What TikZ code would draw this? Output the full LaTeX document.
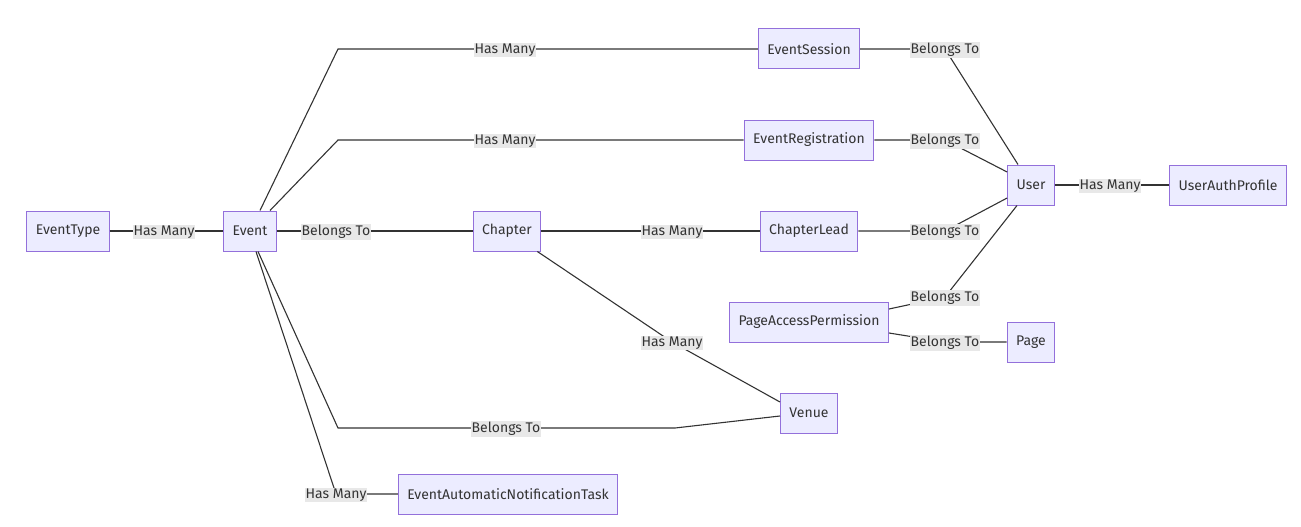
\documentclass[tikz,border=0pt]{standalone}
\usepackage{fontspec}
\setmainfont{Fira Sans}
\usetikzlibrary{positioning}
\definecolor{entFill}{HTML}{ECECFF}
\definecolor{entC}   {HTML}{9370DB}
\definecolor{relC}   {HTML}{333333}
\definecolor{lblFill}{HTML}{E8E8E8}
\tikzset{
  entity/.style={draw=entC,line width=1pt,fill=entFill,text=relC,
                 font=\fontsize{14}{16}\selectfont,
                 minimum height=40pt,inner xsep=9pt,inner ysep=0pt},
  rel/.style={draw=relC,line width=1.1pt},
  lbl/.style={fill=lblFill,text=relC,font=\fontsize{14}{16}\selectfont,
              inner xsep=0.5pt,inner ysep=1pt,yshift=-1pt},
}
\begin{document}
\begin{tikzpicture}[x=1pt,y=-1pt]
\useasboundingbox (0,0) rectangle (1301,527);

% Entities
\node[entity] (etype)   at (68,231)   {EventType};
\node[entity] (event)   at (250,231)  {Event};
\node[entity] (chapter) at (507,231)  {Chapter};
\node[entity] (session) at (809,49)   {EventSession};
\node[entity] (reg)     at (809,140)  {EventRegistration};
\node[entity] (lead)    at (809,231)  {ChapterLead};
\node[entity] (pap)     at (809,322)  {PageAccessPermission};
\node[entity] (venue)   at (809,413)  {Venue};
\node[entity] (auto)    at (508,494)  {EventAutomaticNotificationTask};
\node[entity] (user)    at (1031,185) {User};
\node[entity] (page)    at (1031,342) {Page};
\node[entity] (uap)     at (1228,185) {UserAuthProfile};

% Relations from Event
\draw[rel] (etype.east) -- (164,231) node[lbl] {Has Many} -- (event.west);
\draw[rel] ([xshift=10pt]event.north) -- (338,49) -- (505,49)
  node[lbl] {Has Many} -- (session.west);
\draw[rel] ([xshift=20pt]event.north) -- (338,140) -- (505,140)
  node[lbl] {Has Many} -- (reg.west);
\draw[rel] (event.east) -- (336,231) node[lbl] {Belongs To} -- (chapter.west);
\draw[rel] ([xshift=8pt]event.south) -- (338,428) -- (506,428)
  node[lbl] {Belongs To} -- (675,428) -- ([yshift=-3pt]venue.west);
\draw[rel] ([xshift=6pt]event.south) -- (336,494)
  node[lbl] {Has Many} -- (auto.west);

% Relations from Chapter
\draw[rel] (chapter.east) -- (672,231) node[lbl] {Has Many} -- (lead.west);
\draw[rel] ([xshift=-4pt]chapter.south east) -- (672,342)
  node[lbl] {Has Many} -- ([yshift=11pt]venue.west);

% Relations to User and Page
\draw[rel] (session.east) -- (945,49) node[lbl] {Belongs To}
  -- ([xshift=-13pt]user.north);
\draw[rel] (reg.east) -- (945,140) node[lbl] {Belongs To}
  -- ([yshift=13pt]user.west);
\draw[rel] (lead.east) -- (945,231) node[lbl] {Belongs To}
  -- ([yshift=-13pt]user.west);
\draw[rel] ([yshift=13pt]pap.east) -- (945,297) node[lbl] {Belongs To}
  -- ([xshift=-14pt]user.south);
\draw[rel] ([yshift=-11pt]pap.east) -- (945,342) node[lbl] {Belongs To}
  -- (page.west);
\draw[rel] (user.east) -- (1110,185) node[lbl] {Has Many} -- (uap.west);

\end{tikzpicture}
\end{document}
